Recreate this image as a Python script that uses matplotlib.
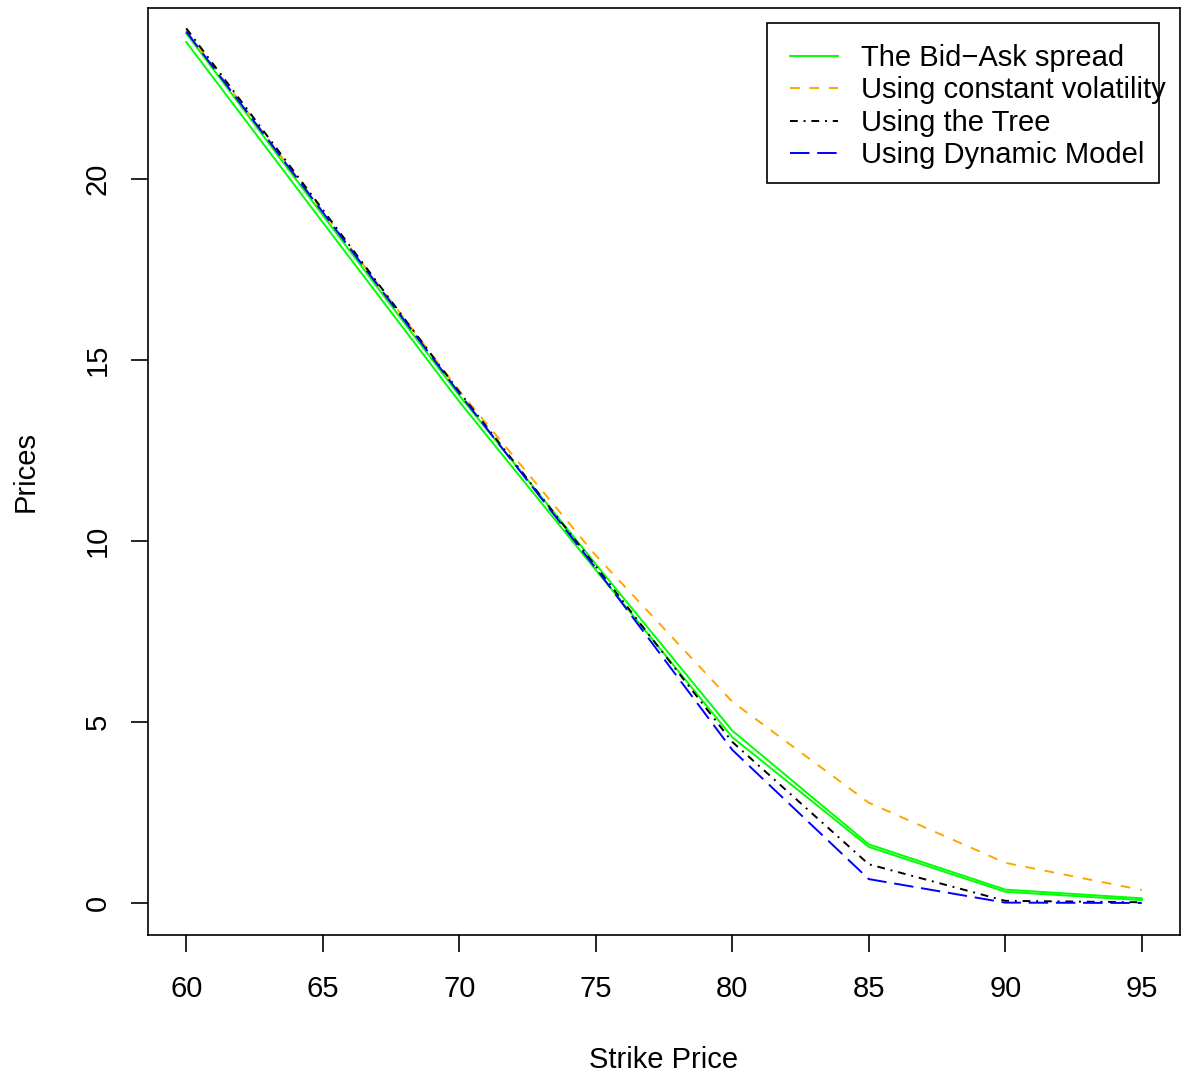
import numpy as np
import matplotlib
matplotlib.use("Agg")
import matplotlib.pyplot as plt
from matplotlib.patches import Rectangle

"""
    Data read off the reference chart
"""
strikes = [60, 65, 70, 75, 80, 85, 90, 95]

bid_prices = [23.78, 18.80, 13.85, 9.20, 4.58, 1.55, 0.31, 0.08]
ask_prices = [24.02, 19.00, 14.02, 9.36, 4.76, 1.62, 0.37, 0.13]
const_vol_prices = [24.10, 19.10, 14.15, 9.60, 5.56, 2.77, 1.11, 0.36]
tree_prices = [24.16, 19.15, 14.12, 9.30, 4.45, 1.07, 0.06, 0.02]
dynamic_prices = [24.07, 19.08, 14.08, 9.25, 4.23, 0.66, 0.01, 0.00]

legend_labels = ["The Bid\u2212Ask spread", "Using constant volatility",
                 "Using the Tree", "Using Dynamic Model"]

plt.rcParams["font.family"] = ["Liberation Sans", "DejaVu Sans"]
font_size = 21
lw = 1.4

W, H = 1181, 1074
fig = plt.figure(figsize=(W / 100, H / 100), dpi=100)
ax = fig.add_axes([148 / W, 1 - 935 / H, 1032 / W, 927 / H])

ax.plot(strikes, bid_prices, color="#00FF00", lw=lw)
ax.plot(strikes, ask_prices, color="#00FF00", lw=lw, label=legend_labels[0])
ax.plot(strikes, const_vol_prices, color="#FFA500", lw=lw,
        dashes=(5, 5), label=legend_labels[1])
ax.plot(strikes, tree_prices, color="black", lw=lw,
        dashes=(4, 3, 1, 3), label=legend_labels[2])
ax.plot(strikes, dynamic_prices, color="#0000FF", lw=lw,
        dashes=(10, 4), label=legend_labels[3])

ax.set_xlim(58.6, 96.4)
ax.set_ylim(-0.884, 24.72)
ax.set_xticks(strikes)
ax.set_yticks([0, 5, 10, 15, 20])
ax.tick_params(axis="both", length=12, width=1.2, labelsize=font_size)
ax.tick_params(axis="x", pad=17)
ax.tick_params(axis="y", pad=14)
for lbl in ax.get_yticklabels():
    lbl.set_rotation(90)
    lbl.set_va("center")

for s in ax.spines.values():
    s.set_linewidth(1.2)

ax.set_xlabel("Strike Price", fontsize=font_size, labelpad=31)
ax.set_ylabel("Prices", fontsize=font_size, labelpad=32)

# legend box is drawn by hand, the text runs past it like in the original
fig.patches.append(Rectangle((767 / W, 1 - 183 / H), 392 / W, 160 / H,
                             transform=fig.transFigure, fill=False,
                             edgecolor="black", linewidth=1.2))
leg = ax.legend(loc="upper left", bbox_to_anchor=(790 / W, 1 - 44 / H),
                bbox_transform=fig.transFigure, fontsize=font_size,
                frameon=False, handlelength=1.65, handletextpad=0.8,
                labelspacing=0.15, borderpad=0, borderaxespad=0)

fig.savefig("out.png", dpi=100)
